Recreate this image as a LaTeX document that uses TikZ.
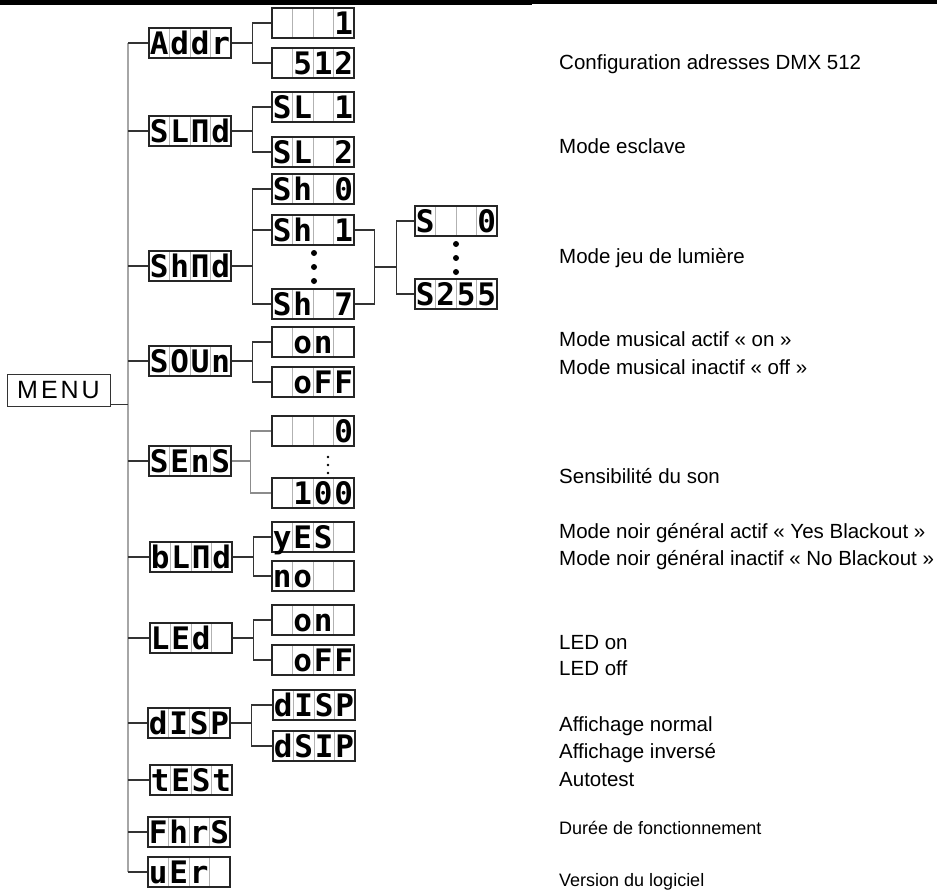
\documentclass[tikz,border=0pt]{standalone}
\usepackage{fontspec}
\setmainfont{Liberation Sans}
\newfontfamily\lcdfont{DejaVu Sans Mono}
\newfontfamily\menufont[LetterSpace=12]{Liberation Sans}
\usepackage{tikz}
\usetikzlibrary{positioning,calc}

\newcommand{\digits}[4]{\makebox[20.5pt]{#1}\makebox[20.5pt]{#2}\makebox[20.5pt]{#3}\makebox[20.5pt]{#4}}

\begin{document}
\begin{tikzpicture}[x=1pt, y=-1pt,
    lcd/.style={draw=black!85, line width=1.3pt, minimum width=82pt, minimum height=30pt, inner sep=0pt,
        font=\lcdfont\bfseries\fontsize{31}{31}\selectfont, text height=23pt, text depth=0pt,
        path picture={\foreach \k in {1,2,3}
            \draw[black!30, line width=0.8pt] ([xshift=\k*20.5pt]path picture bounding box.south west)
                -- ([xshift=\k*20.5pt]path picture bounding box.north west);}},
    link/.style={draw=black!80, line width=1.3pt},
    trunk/.style={draw=black!35, line width=2.4pt},
    soft/.style={draw=black!45, line width=1.3pt},
    desc/.style={anchor=base west, inner sep=0pt, font=\fontsize{20.5}{24}\selectfont},
    note/.style={desc, font=\fontsize{18}{21}\selectfont}
]
\useasboundingbox (0,0) rectangle (937,891);
\fill (0,0) rectangle (532,5);
\fill (532,0) rectangle (937,4);

\node[draw=black!80, line width=1pt, minimum width=103pt, minimum height=32pt, inner sep=0pt,
    font=\menufont\fontsize{25}{25}\selectfont] (menu) at (58.5,390) {MENU};

% first level
\node[lcd] (addr) at (190,43)  {\digits{A}{d}{d}{r}};
\node[lcd] (slmd) at (190,131) {\digits{S}{L}{Π}{d}};
\node[lcd] (shmd) at (190,266) {\digits{S}{h}{Π}{d}};
\node[lcd] (soun) at (190,361) {\digits{S}{O}{U}{n}};
\node[lcd] (sens) at (190,461) {\digits{S}{E}{n}{S}};
\node[lcd] (blmd) at (191,557) {\digits{b}{L}{Π}{d}};
\node[lcd] (led)  at (191,638) {\digits{L}{E}{d}{}};
\node[lcd] (disp) at (189,723) {\digits{d}{I}{S}{P}};
\node[lcd] (test) at (191,780) {\digits{t}{E}{S}{t}};
\node[lcd] (fhrs) at (189,832) {\digits{F}{h}{r}{S}};
\node[lcd] (uer)  at (189,872) {\digits{u}{E}{r}{}};

% second level
\node[lcd] (adr1)    at (313,23)  {\digits{}{}{}{1}};
\node[lcd] (adr512)  at (313,63)  {\digits{}{5}{1}{2}};
\node[lcd] (sl1)     at (313,107) {\digits{S}{L}{}{1}};
\node[lcd] (sl2)     at (313,152) {\digits{S}{L}{}{2}};
\node[lcd] (sh0)     at (313,189) {\digits{S}{h}{}{0}};
\node[lcd] (sh1)     at (313,230) {\digits{S}{h}{}{1}};
\node[lcd] (sh7)     at (313,304) {\digits{S}{h}{}{7}};
\node[lcd] (sndon)   at (313,342) {\digits{}{o}{n}{}};
\node[lcd] (sndoff)  at (313,382) {\digits{}{o}{F}{F}};
\node[lcd] (sens0)   at (313,431) {\digits{}{}{}{0}};
\node[lcd] (sens100) at (313,493) {\digits{}{1}{0}{0}};
\node[lcd] (yes)     at (313,537) {\digits{y}{E}{S}{}};
\node[lcd] (no)      at (313,576) {\digits{n}{o}{}{}};
\node[lcd] (ledon)   at (313,620) {\digits{}{o}{n}{}};
\node[lcd] (ledoff)  at (313,660) {\digits{}{o}{F}{F}};
\node[lcd] (dispn)   at (314,705) {\digits{d}{I}{S}{P}};
\node[lcd] (dispi)   at (314,746) {\digits{d}{S}{I}{P}};

% third level
\node[lcd] (spd0)   at (456,221) {\digits{S}{}{}{0}};
\node[lcd] (spd255) at (456,294) {\digits{S}{2}{5}{5}};

\coordinate (spine) at (128,0);
\draw[trunk] (addr -| spine) -- (uer -| spine);
\draw[link] ([yshift=2pt]menu.south east) coordinate (m) -- (m -| spine);
\foreach \n in {addr,slmd,shmd,soun,sens,blmd,led,disp,test,fhrs,uer}
    \draw[link] (\n -| spine) -- (\n.west);

\foreach \p/\a/\b in {addr/adr1/adr512, slmd/sl1/sl2, shmd/sh0/sh7, soun/sndon/sndoff,
        blmd/yes/no, led/ledon/ledoff, disp/dispn/dispi}
    \draw[link] (\p.east) -- ++(21,0) coordinate (\p-f) |- (\a.west) (\p-f) |- (\b.west);
\draw[link] (sh1.west) -- (sh1.west -| shmd-f);
\draw[soft] (sens.east) -- ++(19,0) coordinate (sens-f) |- (sens0.west) (sens-f) |- (sens100.west);

\draw[link] (sh1.east) -- ++(20,0) coordinate (j1) |- (sh7.east);
\coordinate (j2) at ($(j1)!0.5!(j1 |- sh7.east)$);
\draw[link] (j2) -- ++(22,0) coordinate (sh-f) |- (spd0.west) (sh-f) |- (spd255.west);

\foreach \y in {253,267,281} \fill (314,\y) circle[radius=3pt];
\foreach \y in {244,258,272} \fill (456,\y) circle[radius=3pt];
\foreach \y in {457,465,473} \fill (328,\y) circle[radius=1.4pt];

\node[desc] (t-addr)   at (559,70)  {Configuration adresses DMX 512};
\node[desc] (t-slave)  at (559,153) {Mode esclave};
\node[desc] (t-show)   at (559,263) {Mode jeu de lumière};
\node[desc] (t-sndon)  at (559,346) {Mode musical actif « on »};
\node[desc] (t-sndoff) at (559,374) {Mode musical inactif « off »};
\node[desc] (t-sens)   at (559,483) {Sensibilité du son};
\node[desc] (t-bon)    at (559,538) {Mode noir général actif « Yes Blackout »};
\node[desc] (t-boff)   at (559,565) {Mode noir général inactif « No Blackout »};
\node[desc] (t-ledon)  at (559,649) {LED on};
\node[desc] (t-ledoff) at (559,675) {LED off};
\node[desc] (t-dispn)  at (559,731) {Affichage normal};
\node[desc] (t-dispi)  at (559,758) {Affichage inversé};
\node[desc] (t-test)   at (559,786) {Autotest};
\node[note] (t-hours)  at (559,834) {Durée de fonctionnement};
\node[note] (t-ver)    at (559,886) {Version du logiciel};
\end{tikzpicture}
\end{document}
